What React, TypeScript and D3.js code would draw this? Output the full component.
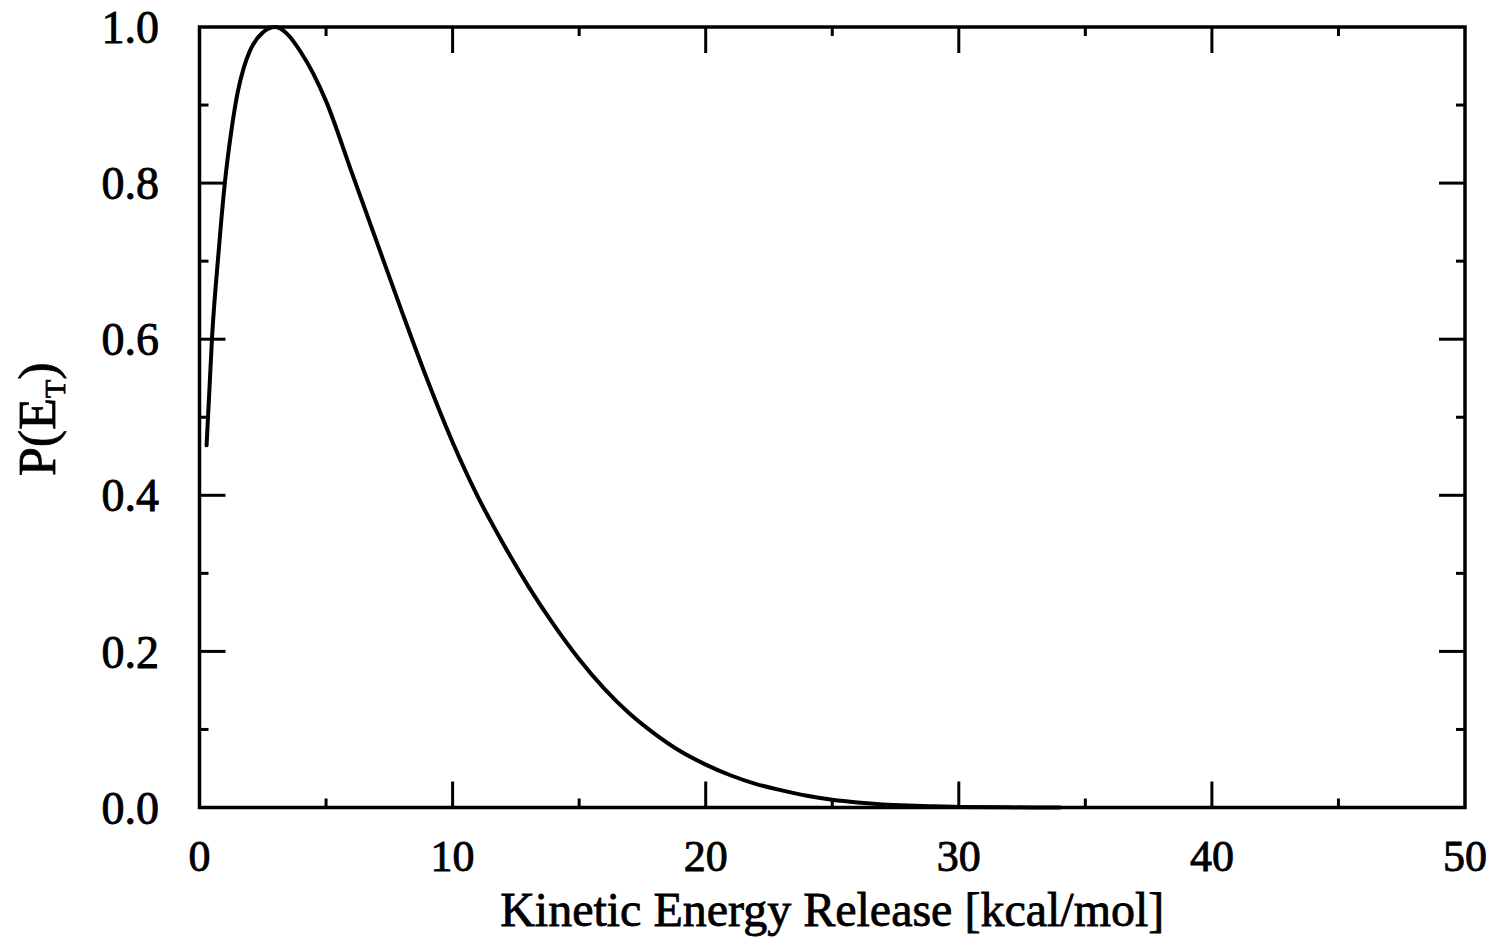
import React from "react";
import * as d3 from "d3";

const energyX: number[] = [
  0.28, 0.5, 0.75, 1.0, 1.25, 1.5, 1.75, 2.0, 2.5, 3.0, 3.5, 4.0, 4.5, 5.0,
  6.0, 7.0, 8.0, 9.0, 10.0, 11.0, 12.0, 13.0, 14.0, 15.0, 16.0, 17.0, 18.0,
  19.0, 20.0, 21.0, 22.0, 23.0, 24.0, 25.0, 26.0, 27.0, 28.0, 29.0, 30.0,
  32.0, 34.0,
];
const probY: number[] = [
  0.464, 0.605, 0.71, 0.8, 0.865, 0.915, 0.948, 0.97, 0.993, 1.0, 0.99,
  0.968, 0.94, 0.905, 0.815, 0.725, 0.635, 0.548, 0.468, 0.398, 0.338, 0.283,
  0.234, 0.19, 0.152, 0.12, 0.094, 0.072, 0.055, 0.041, 0.03, 0.022, 0.015,
  0.01, 0.0065, 0.004, 0.0025, 0.0015, 0.0008, 0.0002, 0.0,
];
const xTickLabels: number[] = [0, 10, 20, 30, 40, 50];
const xMinorTicks: number[] = [5, 15, 25, 35, 45];
const yTickLabels: number[] = [0, 0.2, 0.4, 0.6, 0.8, 1.0];
const yMinorTicks: number[] = [0.1, 0.3, 0.5, 0.7, 0.9];

const W = 1494;
const H = 940;
const left = 199.5;
const right = 1465;
const top = 27;
const bottom = 807.5;
const FONT = "'Liberation Serif', 'Times New Roman', serif";

export default function App() {
  const x = d3.scaleLinear().domain([0, 50]).range([left, right]);
  const y = d3.scaleLinear().domain([0, 1]).range([bottom, top]);
  const pts: [number, number][] = energyX.map((e, i) => [e, probY[i]]);
  const line = d3
    .line<[number, number]>()
    .x((d) => x(d[0]))
    .y((d) => y(d[1]))
    .curve(d3.curveMonotoneX);

  const major = 26;
  const minor = 9;
  const tickW = 3;

  return (
    <svg
      width={W}
      height={H}
      viewBox={`0 0 ${W} ${H}`}
      style={{ position: "absolute", left: 0, top: 0, background: "#fff" }}
    >
      <rect x={0} y={0} width={W} height={H} fill="#fff" />
      {/* ticks */}
      <g stroke="#000" strokeWidth={tickW}>
        {xTickLabels.slice(1, -1).map((t) => (
          <g key={"xM" + t}>
            <line x1={x(t)} x2={x(t)} y1={bottom} y2={bottom - major} />
            <line x1={x(t)} x2={x(t)} y1={top} y2={top + major} />
          </g>
        ))}
        {xMinorTicks.map((t) => (
          <g key={"xm" + t}>
            <line x1={x(t)} x2={x(t)} y1={bottom} y2={bottom - minor} />
            <line x1={x(t)} x2={x(t)} y1={top} y2={top + minor} />
          </g>
        ))}
        {yTickLabels.slice(1, -1).map((t) => (
          <g key={"yM" + t}>
            <line x1={left} x2={left + major} y1={y(t)} y2={y(t)} />
            <line x1={right} x2={right - major} y1={y(t)} y2={y(t)} />
          </g>
        ))}
        {yMinorTicks.map((t) => (
          <g key={"ym" + t}>
            <line x1={left} x2={left + minor} y1={y(t)} y2={y(t)} />
            <line x1={right} x2={right - minor} y1={y(t)} y2={y(t)} />
          </g>
        ))}
      </g>
      {/* frame */}
      <rect
        x={left}
        y={top}
        width={right - left}
        height={bottom - top}
        fill="none"
        stroke="#000"
        strokeWidth={3.5}
      />
      {/* curve */}
      <path
        d={line(pts) || ""}
        fill="none"
        stroke="#000"
        strokeWidth={4}
        strokeLinejoin="round"
        strokeLinecap="round"
      />
      {/* tick labels */}
      <g fontFamily={FONT} fill="#000" stroke="#000" strokeWidth={0.9}>
        {xTickLabels.map((t) => (
          <text
            key={"xl" + t}
            x={x(t)}
            y={871}
            textAnchor="middle"
            fontSize={44}
          >
            {d3.format("d")(t)}
          </text>
        ))}
        {yTickLabels.map((t) => (
          <text
            key={"yl" + t}
            x={159}
            y={y(t)}
            dy="0.35em"
            textAnchor="end"
            fontSize={46}
          >
            {d3.format(".1f")(t)}
          </text>
        ))}
      </g>
      {/* axis titles */}
      <text
        x={(left + right) / 2}
        y={926}
        textAnchor="middle"
        fontFamily={FONT}
        fontSize={48}
        fill="#000"
        stroke="#000"
        strokeWidth={0.8}
      >
        Kinetic Energy Release [kcal/mol]
      </text>
      <text
        transform={`translate(55, ${(top + bottom) / 2 + 2}) rotate(-90)`}
        textAnchor="middle"
        fontFamily={FONT}
        fontSize={52}
        fill="#000"
        stroke="#000"
        strokeWidth={0.8}
      >
        P(E
        <tspan fontSize={30} dy={10}>
          T
        </tspan>
        <tspan dy={-10}>)</tspan>
      </text>
    </svg>
  );
}
